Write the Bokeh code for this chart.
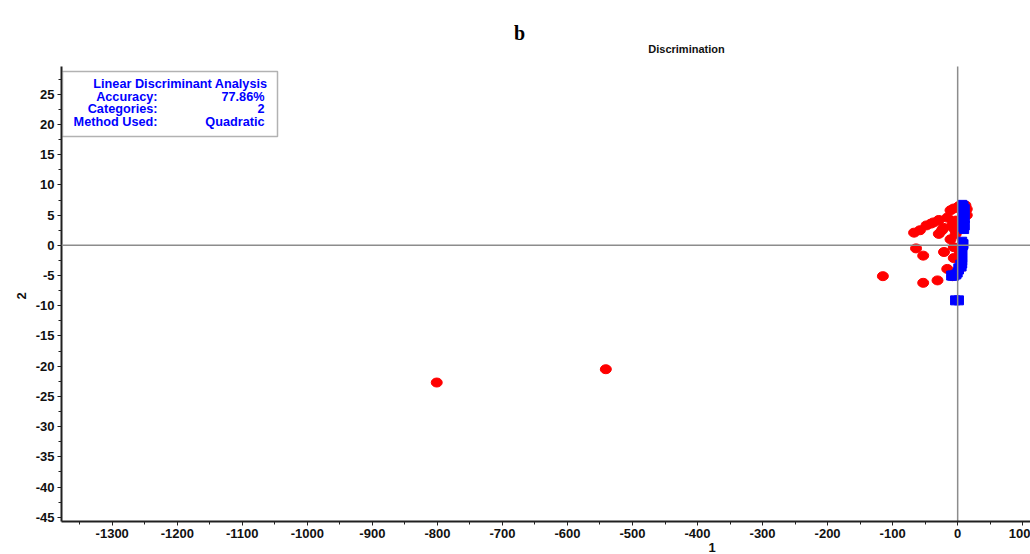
from bokeh.plotting import figure
from bokeh.models import (Range1d, SingleIntervalTicker, Span, Label, Title,
                          BoxAnnotation, PrintfTickFormatter)
from bokeh.embed import file_html
from bokeh.resources import INLINE

# ---- data ----
red_x = [-801, -541, -115, -53, -31, -64, -53, -21, -16, -8, -6, -6, -11,
         -67, -58, -48, -41, -37, -29, -24, -29, -22, -16, -11, -6, -6, -3,
         -3, -8, 2, 5, 14, 14, 12, 3, 2]
red_y = [-22.7, -20.5, -5.1, -6.2, -5.8, -0.5, -1.7, -1.1, -3.9, -5.1, -2.1,
         -0.3, 1.0, 2.1, 2.5, 3.3, 3.6, 3.8, 4.2, 2.5, 1.9, 2.9, 4.6, 5.8,
         6.1, 2.8, 4.1, 1.9, 3.5, 6.5, 3.0, 6.0, 5.0, 6.6, -1.0, -4.0]

blue_x = [7, 9, 11, 8, 10, 11, 7, 9, 11, 8, 10, 7, 9, 8, 7, 7, 7, 7, 7, 7,
          6, 4, 2, 1, 0, -2, -5, -8, -10, -4, 2]
blue_y = [6.7, 6.5, 6.0, 5.5, 5.0, 4.5, 4.2, 3.8, 3.3, 3.0, 2.7, 0.6, 0.2,
          0.0, -0.5, -1.0, -1.5, -2.0, -2.5, -3.0, -3.5, -3.2, -4.0, -3.8,
          -4.5, -4.8, -5.0, -5.0, -5.0, -9.1, -9.1]

x_tick_step = 100
y_tick_step = 5
x_label = "1"
y_label = "2"
main_title = "b"
sub_title = "Discrimination"
info_lines = [("", "Linear Discriminant Analysis"),
              ("Accuracy:", "77.86%"),
              ("Categories:", "2"),
              ("Method Used:", "Quadratic")]

# ---- geometry ----
X0, X1 = -1378, 112          # visible x extent
Y0, YA = -45.7, 29.6         # y extent of the axes box
W, H = 1030, 554
L, T, B = 61, 66, 33         # axes box left / top / bottom margins (px)

sx = (X1 - X0) / (W - L)
sy = (YA - Y0) / (H - T - B)
YTOP = YA + T * sy           # frame reaches the top of the canvas

def dx(px):
    return X0 + (px - L) * sx
def dy(py):
    return YTOP - py * sy

p = figure(width=W, height=H, output_backend="svg", toolbar_location=None,
           x_range=Range1d(X0, X1), y_range=Range1d(Y0, YTOP),
           min_border_left=L, min_border_right=0, min_border_top=0,
           min_border_bottom=B, background_fill_color="white",
           border_fill_color="white")
p.outline_line_color = None
p.grid.visible = False

FONT = "Liberation Sans"
for ax in (p.xaxis[0], p.yaxis[0]):
    ax.axis_line_color = "#202020"
    ax.axis_line_width = 2
    ax.major_tick_line_color = "#202020"
    ax.minor_tick_line_color = "#202020"
    ax.major_tick_in = 0
    ax.major_tick_out = 4
    ax.minor_tick_in = 0
    ax.minor_tick_out = 3
    ax.major_label_text_font = FONT
    ax.major_label_text_font_style = "bold"
    ax.major_label_text_font_size = "13px"
    ax.major_label_text_color = "#111111"
    ax.major_label_standoff = 3
    ax.formatter = PrintfTickFormatter(format="%d")

p.xaxis.ticker = SingleIntervalTicker(interval=x_tick_step, num_minor_ticks=2)
p.yaxis.ticker = SingleIntervalTicker(interval=y_tick_step, num_minor_ticks=2)
p.yaxis.bounds = (Y0, YA)

# points
p.ellipse(x=red_x, y=red_y, width=11, height=9, width_units="screen",
          height_units="screen", fill_color="#FF0000", line_color="#FF0000")
p.scatter(x=blue_x, y=blue_y, marker="square", size=9,
          fill_color="#0000FF", line_color="#0000FF")

# zero lines
p.segment(x0=[0], y0=[Y0], x1=[0], y1=[YA], line_color="#8C8C8C",
          line_width=1.5)
p.add_layout(Span(location=0, dimension="width", line_color="#8C8C8C",
                  line_width=1.5))

# axis labels placed as in the original
p.add_layout(Title(text=x_label, text_font=FONT, text_font_style="bold",
                   text_font_size="13px", align="left", offset=647,
                   standoff=0, text_color="#111111"), "below")
p.add_layout(Title(text=y_label, text_font=FONT, text_font_style="bold",
                   text_font_size="13px", align="left", offset=222,
                   standoff=14, text_color="#111111"), "left")

# titles
p.add_layout(Label(x=dx(519), y=dy(32), text=main_title,
                   text_font="Liberation Serif", text_font_style="bold",
                   text_font_size="20px", text_align="center",
                   text_baseline="middle", text_color="#000000"))
p.add_layout(Label(x=dx(686), y=dy(48), text=sub_title, text_font=FONT,
                   text_font_style="bold", text_font_size="11px",
                   text_align="center", text_baseline="middle",
                   text_color="#111111"))

# info box
p.add_layout(BoxAnnotation(left=dx(62), right=dx(277), top=dy(71),
                           bottom=dy(136), fill_color="white", fill_alpha=1,
                           line_color="black", line_width=1.5))
baselines = [83, 96, 108, 121]
for (lab, val), by in zip(info_lines, baselines):
    if lab:
        p.add_layout(Label(x=dx(157), y=dy(by), text=lab, text_align="right",
                           text_baseline="alphabetic", text_font=FONT,
                           text_font_style="bold", text_font_size="12.7px",
                           text_color="#0000FF"))
    p.add_layout(Label(x=dx(267 if not lab else 264), y=dy(by), text=val,
                       text_align="right", text_baseline="alphabetic",
                       text_font=FONT, text_font_style="bold",
                       text_font_size="12.7px", text_color="#0000FF"))

open("out.html", "w").write(file_html(p, INLINE))
